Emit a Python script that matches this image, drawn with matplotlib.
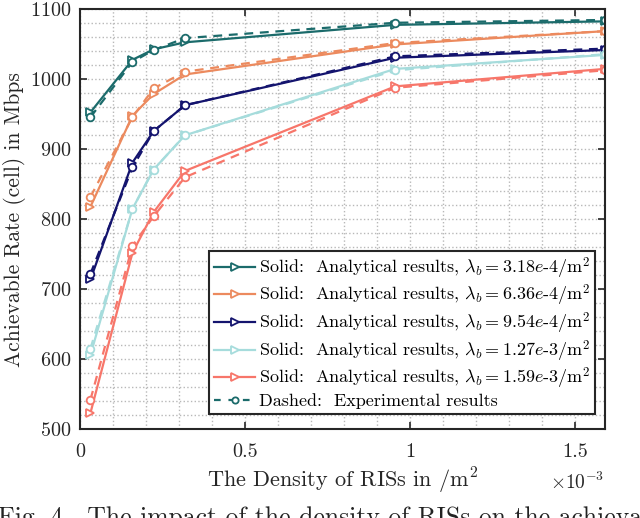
import matplotlib
matplotlib.use("Agg")
import matplotlib.pyplot as plt
from matplotlib.ticker import MultipleLocator
from matplotlib.lines import Line2D

plt.rcParams['font.family'] = 'serif'
plt.rcParams['font.serif'] = ['cmr10', 'DejaVu Serif']
plt.rcParams['mathtext.fontset'] = 'cm'
plt.rcParams['axes.formatter.use_mathtext'] = True

# x: density of RISs in units of 1e-3 /m^2
density = [0.0318, 0.159, 0.223, 0.318, 0.955, 1.59]
bs_mantissa = ['3.18', '6.36', '9.54', '1.27', '1.59']
bs_exponent = ['4', '4', '4', '3', '3']
colors = ['#1b6b6b', '#ec8a5e', '#14146e', '#a6dcdc', '#f7766a']

analytical = [
    [953, 1028, 1043, 1053, 1078, 1083],
    [818, 948, 979, 1007, 1050, 1069],
    [714, 881, 926, 963, 1031, 1042],
    [606, 815, 871, 920, 1015, 1035],
    [523, 752, 810, 869, 990, 1015],
]
experimental = [
    [946, 1025, 1042, 1059, 1081, 1085],
    [832, 946, 987, 1011, 1052, 1069],
    [722, 874, 926, 963, 1033, 1044],
    [615, 815, 871, 920, 1013, 1036],
    [542, 762, 804, 860, 988, 1013],
]

fig = plt.figure(figsize=(6.4, 5.18), dpi=100)
ax = fig.add_axes([0.125, 0.172, 0.820, 0.8097])

handles = []
for c, ya, m, e in zip(colors, analytical, bs_mantissa, bs_exponent):
    h, = ax.plot(density, ya, '-', color=c, lw=1.6, marker='>', ms=6,
                 mfc='white', mec=c, mew=1.3,
                 label=r'Solid:  Analytical results, $\lambda_b = %se$-$%s/\mathrm{m}^2$' % (m, e))
    handles.append(h)
for c, ye in zip(colors, experimental):
    ax.plot(density, ye, '--', color=c, lw=1.6, marker='o', ms=5.5,
            mfc='white', mec=c, mew=1.3, dashes=(4, 3))

dash_handle = Line2D([], [], color=colors[0], ls='--', lw=1.6, marker='o', ms=4.5,
                     mfc='white', mec=colors[0], mew=1.3, dashes=(3, 3.5))
handles.append(dash_handle)
labels = [h.get_label() for h in handles[:-1]] + ['Dashed:  Experimental results']

ax.set_xlim(0, 1.59)
ax.set_ylim(500, 1100)
ax.xaxis.set_minor_locator(MultipleLocator(0.1))
ax.yaxis.set_major_locator(MultipleLocator(100))
ax.yaxis.set_minor_locator(MultipleLocator(20))
ax.set_xticks([0, 0.5, 1.0, 1.5])
ax.set_xticklabels(['0', '0.5', '1', '1.5'])

ax.grid(True, which='both', ls=':', color='#b8b8b8', lw=1.0)
ax.set_axisbelow(True)
ax.tick_params(which='major', direction='in', length=5, width=1.2, top=True, right=True,
               labelsize=14.5, colors='#262626')
ax.tick_params(axis='x', which='major', pad=10.5)
ax.tick_params(axis='y', which='major', pad=6)
ax.tick_params(which='minor', length=0, top=True, right=True)
for s in ax.spines.values():
    s.set_linewidth(1.5)
    s.set_color('#262626')

ax.set_ylabel('Achievable Rate (cell) in Mbps', fontsize=15.5, color='#262626', labelpad=3)
ax.set_xlabel(r'The Density of RISs in /m$^2$', fontsize=16, color='#262626', labelpad=3)
fig.text(577 / 640, 1 - 482 / 518, r'$\times10^{-3}$', fontsize=14, ha='center', va='center',
         color='#262626')

leg = ax.legend(handles, labels, loc='lower right', fontsize=13, frameon=True,
                fancybox=False, edgecolor='#262626', framealpha=1,
                handlelength=2.3, handletextpad=0.2, borderpad=0.25,
                labelspacing=0.12, borderaxespad=0.0, bbox_to_anchor=(0.981, 0.036))
leg.get_frame().set_linewidth(1.5)

fig.text(-0.003, 1 - 506 / 518, 'Fig. 4.  The impact of the density of RISs on the achievable rate',
         fontsize=18.5, ha='left', va='top', color='#222222')

fig.savefig('out.png', dpi=100)
